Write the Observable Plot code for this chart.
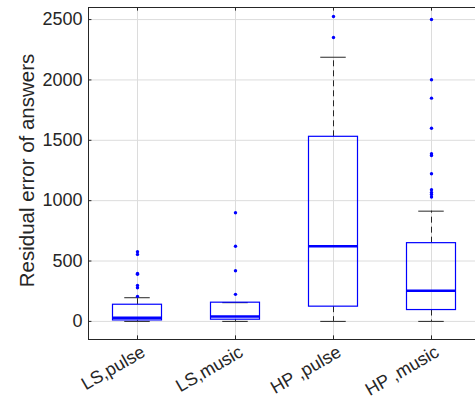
<!DOCTYPE html>
<html>
<head>
<meta charset="utf-8">
<script src="https://cdn.jsdelivr.net/npm/d3@7"></script>
<script src="https://cdn.jsdelivr.net/npm/@observablehq/plot@0.6"></script>
<style>
  html, body { margin: 0; padding: 0; background: #fff; }
</style>
</head>
<body>
<div id="chart"></div>
<script>
// Categories and box statistics
const categories = ["LS,pulse", "LS,music", "HP ,pulse", "HP ,music"];
const q1Values = [8, 14, 122, 94];
const medianValues = [31, 40, 623, 254];
const q3Values = [138, 155, 1529, 648];
const whiskerLow = [0, 0, 0, 0];
const whiskerHigh = [196, 155, 2188, 913];
const outliersLSpulse = [207, 279, 298, 390, 397, 555, 577];
const outliersLSmusic = [224, 420, 623, 900];
const outliersHPpulse = [2351, 2525];
const outliersHPmusic = [1030, 1051, 1068, 1090, 1223, 1374, 1388, 1600, 1849, 2001, 2500];
const yTicks = [0, 500, 1000, 1500, 2000, 2500];
const yLabel = "Residual error of answers";

const outlierLists = [outliersLSpulse, outliersLSmusic, outliersHPpulse, outliersHPmusic];

const boxes = categories.map((c, i) => ({
  cat: c, pos: i + 1,
  q1: q1Values[i], med: medianValues[i], q3: q3Values[i],
  lo: whiskerLow[i], hi: whiskerHigh[i]
}));
const outliers = outlierLists.flatMap((arr, i) => arr.map(v => ({pos: i + 1, v})));

const boxHalf = 0.25, capHalf = 0.13;
const yMin = -150, yMax = 2600, xMin = 0.5, xMax = 4.5;
const axisColor = "#262626";
const gridColor = "#dcdcdc";
const blue = "#0000ff";

const chart = Plot.plot({
  width: 475,
  height: 400,
  marginLeft: 88,
  marginTop: 7,
  marginBottom: 61,
  marginRight: 0,
  style: {fontFamily: "'Liberation Sans', Arial, sans-serif", fontSize: "18px", color: axisColor, background: "#fff", overflow: "visible"},
  x: {type: "linear", domain: [xMin, xMax], range: [88, 480], axis: null},
  y: {domain: [yMin, yMax], range: [339, 7]},
  marks: [
    // grid
    Plot.ruleX(boxes, {x: "pos", y1: yMin, y2: yMax, stroke: gridColor, strokeWidth: 1}),
    Plot.ruleY(yTicks, {x1: xMin, x2: xMax, stroke: gridColor, strokeWidth: 1}),
    // axis frame
    Plot.ruleX([xMin], {y1: yMin, y2: yMax, stroke: axisColor, strokeWidth: 1}),
    Plot.ruleY([yMin, yMax], {x1: xMin, x2: xMax, stroke: axisColor, strokeWidth: 1}),
    // inward ticks
    Plot.ruleY(yTicks, {x1: xMin, x2: xMin + 0.035, stroke: axisColor}),
    Plot.ruleX(boxes, {x: "pos", y1: yMin, y2: yMin + 30, stroke: axisColor}),
    Plot.ruleX(boxes, {x: "pos", y1: yMax - 30, y2: yMax, stroke: axisColor}),
    // whiskers
    Plot.ruleX(boxes, {x: "pos", y1: "q3", y2: "hi", stroke: axisColor, strokeWidth: 1, strokeDasharray: "6,4"}),
    Plot.ruleX(boxes, {x: "pos", y1: "q1", y2: "lo", stroke: axisColor, strokeWidth: 1, strokeDasharray: "6,4"}),
    Plot.ruleY(boxes, {y: "hi", x1: d => d.pos - capHalf, x2: d => d.pos + capHalf, stroke: axisColor, strokeWidth: 1}),
    Plot.ruleY(boxes, {y: "lo", x1: d => d.pos - capHalf, x2: d => d.pos + capHalf, stroke: axisColor, strokeWidth: 1}),
    // boxes
    Plot.rect(boxes, {x1: d => d.pos - boxHalf, x2: d => d.pos + boxHalf, y1: "q1", y2: "q3", fill: "none", stroke: blue, strokeWidth: 1.2}),
    Plot.ruleY(boxes, {y: "med", x1: d => d.pos - boxHalf, x2: d => d.pos + boxHalf, stroke: blue, strokeWidth: 2.5}),
    // outliers
    Plot.dot(outliers, {x: "pos", y: "v", r: 1.7, fill: blue, stroke: "none"}),
    // y axis
    Plot.axisY(yTicks, {tickSize: 0, tickPadding: 6, fontSize: 18, fill: axisColor, label: null, tickFormat: d => String(d)}),
    Plot.text([yLabel], {frameAnchor: "left", rotate: -90, textAnchor: "middle", lineAnchor: "middle", dx: -61, dy: -3, fontSize: 20.5, fill: axisColor}),
    // x tick labels (rotated)
    Plot.text(boxes, {x: "pos", y: yMin, text: "cat", rotate: -30, textAnchor: "end", lineAnchor: "middle", dx: 6, dy: 11, fontSize: 18, fill: axisColor}),
  ]
});
document.getElementById("chart").appendChild(chart);
</script>
</body>
</html>
